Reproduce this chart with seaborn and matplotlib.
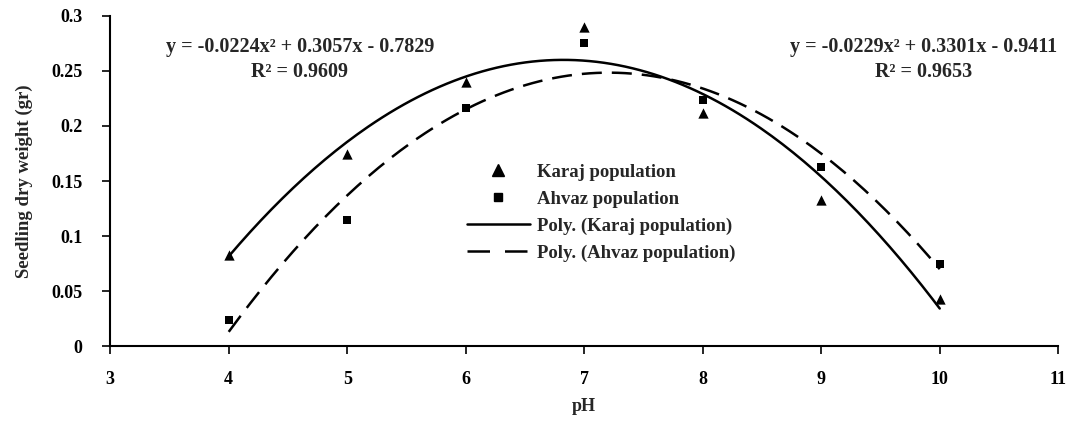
import numpy as np
import pandas as pd
import matplotlib
matplotlib.use("Agg")
import matplotlib.pyplot as plt
import seaborn as sns
from matplotlib.lines import Line2D

# Measured seedling dry weight by pH
ph = [4, 5, 6, 7, 8, 9, 10]
karaj = [0.083, 0.175, 0.240, 0.290, 0.212, 0.133, 0.043]
ahvaz = [0.024, 0.115, 0.216, 0.275, 0.224, 0.163, 0.075]

# Second-order polynomial trendline coefficients (a, b, c) and R^2
karaj_coef = [-0.0224, 0.3057, -0.7829]
karaj_r2 = 0.9609
ahvaz_coef = [-0.0229, 0.3301, -0.9411]
ahvaz_r2 = 0.9653

x_ticks = [3, 4, 5, 6, 7, 8, 9, 10, 11]
y_ticks = [0, 0.05, 0.1, 0.15, 0.2, 0.25, 0.3]
y_tick_labels = ["0", "0.05", "0.1", "0.15", "0.2", "0.25", "0.3"]

sns.set_theme(style="white")
plt.rcParams["font.family"] = ["Liberation Serif", "DejaVu Serif"]
plt.rcParams["font.weight"] = "bold"

fig = plt.figure(figsize=(10.7, 4.32), dpi=100)
ax = fig.add_axes([0.103, 0.199, 0.886, 0.764])

df = pd.DataFrame({"pH": ph, "Karaj": karaj, "Ahvaz": ahvaz})
xs = np.linspace(min(ph), max(ph), 200)
fit = pd.DataFrame({
    "pH": xs,
    "Karaj": np.polyval(karaj_coef, xs),
    "Ahvaz": np.polyval(ahvaz_coef, xs),
})

DASH = (8, 4)
sns.lineplot(data=fit, x="pH", y="Karaj", ax=ax, color="black", lw=1.8)
sns.lineplot(data=fit, x="pH", y="Ahvaz", ax=ax, color="black", lw=1.8)
ax.lines[-1].set_dashes(DASH)
sns.scatterplot(data=df, x="pH", y="Karaj", ax=ax, marker="^", color="black",
                s=55, edgecolor="black", linewidth=0, zorder=5)
sns.scatterplot(data=df, x="pH", y="Ahvaz", ax=ax, marker="s", color="black",
                s=40, edgecolor="black", linewidth=0, zorder=5)

ax.set_xlim(3, 11)
ax.set_ylim(0, 0.3)
ax.set_xticks(x_ticks)
ax.set_yticks(y_ticks)
ax.set_yticklabels(y_tick_labels)
for lab in ax.get_xticklabels() + ax.get_yticklabels():
    lab.set_fontsize(13)
    lab.set_fontweight("bold")
    lab.set_color("black")
ax.tick_params(axis="both", direction="out", length=6, width=1.2,
               color="black", bottom=True, left=True)
ax.tick_params(axis="x", pad=12)
ax.tick_params(axis="y", pad=14)

for side in ("top", "right"):
    ax.spines[side].set_visible(False)
for side in ("left", "bottom"):
    ax.spines[side].set_color("black")
    ax.spines[side].set_linewidth(1.5)

ax.set_xlabel("pH", fontsize=13, fontweight="bold", labelpad=7)
ax.set_ylabel("Seedling dry weight (gr)", fontsize=13.5, fontweight="bold",
              labelpad=13)


def eq_text(c):
    return "y = %.4fx\u00b2 + %.4fx - %.4f" % (c[0], c[1], abs(c[2]))


EQ_SIZE = 14.5
ax.text(0.2, 0.906, eq_text(karaj_coef), transform=ax.transAxes,
        ha="center", va="center", fontsize=EQ_SIZE, fontweight="bold")
ax.text(0.2, 0.83, "R\u00b2 = %.4f" % karaj_r2,
        transform=ax.transAxes, ha="center", va="center", fontsize=EQ_SIZE,
        fontweight="bold")
ax.text(0.858, 0.906, eq_text(ahvaz_coef), transform=ax.transAxes,
        ha="center", va="center", fontsize=EQ_SIZE, fontweight="bold")
ax.text(0.858, 0.83, "R\u00b2 = %.4f" % ahvaz_r2,
        transform=ax.transAxes, ha="center", va="center", fontsize=EQ_SIZE,
        fontweight="bold")

handles = [
    Line2D([], [], marker="^", color="black", ls="none", markersize=8),
    Line2D([], [], marker="s", color="black", ls="none", markersize=6),
    Line2D([], [], color="black", lw=1.8),
    Line2D([], [], color="black", lw=1.8, dashes=(9, 6)),
]
labels = ["Karaj population", "Ahvaz population",
          "Poly. (Karaj population)", "Poly. (Ahvaz population)"]
leg = ax.legend(handles, labels, loc="upper left",
                bbox_to_anchor=(0.368, 0.575), frameon=False,
                prop={"family": "Liberation Serif", "weight": "bold",
                      "size": 13.5},
                handlelength=3.4, handletextpad=0.37, labelspacing=0.52,
                borderaxespad=0)

fig.savefig("out.png", dpi=100)
